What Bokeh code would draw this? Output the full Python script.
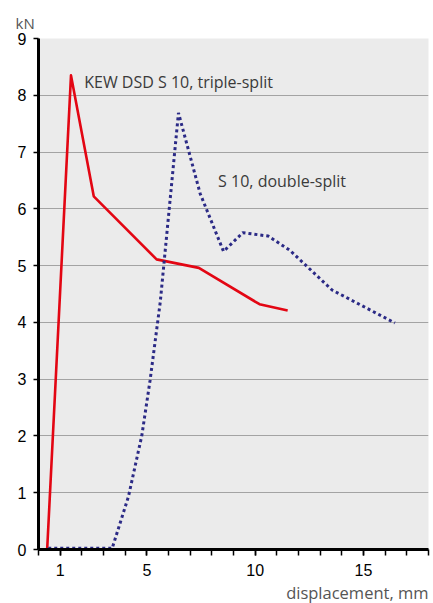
from bokeh.plotting import figure
from bokeh.models import FixedTicker, Range1d, Title
from bokeh.core.properties import value
from bokeh.embed import file_html
from bokeh.resources import INLINE

# ---- data ----
x_tick_labels = [1, 5, 10, 15]
x_minor = list(range(0, 19))
y_ticks = [0, 1, 2, 3, 4, 5, 6, 7, 8, 9]

triple_x = [0.4, 1.5, 2.55, 5.45, 7.4, 10.2, 11.5]
triple_y = [0.0, 8.35, 6.22, 5.11, 4.96, 4.32, 4.21]

double_x = [0.45, 3.4, 4.15, 4.77, 5.15, 5.62, 6.46, 7.46, 8.54, 9.43, 10.6, 11.6, 13.55, 16.45]
double_y = [0.02, 0.02, 0.93, 2.01, 2.98, 4.36, 7.69, 6.27, 5.25, 5.58, 5.52, 5.27, 4.57, 3.99]

label_triple = "KEW DSD S 10, triple-split"
label_double = "S 10, double-split"
y_unit = "kN"
x_title = "displacement, mm"

TEXT_FONT = "Open Sans"
TEXT_COLOR = "#3a3a3a"

p = figure(width=433, height=603, output_backend="svg", toolbar_location=None,
           x_range=Range1d(0, 18.0), y_range=Range1d(0, 9),
           min_border_left=38, min_border_right=5, min_border_top=38, min_border_bottom=54)
p.background_fill_color = "#ebebeb"
p.border_fill_color = "white"
p.outline_line_color = None

# grid
p.xgrid.visible = False
p.ygrid.ticker = FixedTicker(ticks=y_ticks[1:-1])
p.ygrid.grid_line_color = "#a3a3a3"
p.ygrid.grid_line_width = 1.2

# axes
xa = p.xaxis[0]
xa.ticker = FixedTicker(ticks=x_tick_labels, minor_ticks=x_minor)
xa.axis_line_color = "black"
xa.axis_line_width = 3
xa.major_tick_line_color = "black"
xa.major_tick_line_width = 1.5
xa.major_tick_out = 6
xa.major_tick_in = 0
xa.minor_tick_line_color = "black"
xa.minor_tick_line_width = 1.5
xa.minor_tick_out = 6
xa.minor_tick_in = 0
xa.major_label_text_font = "Liberation Sans"
xa.major_label_text_font_size = "16px"
xa.major_label_text_color = "black"
xa.major_label_standoff = 8

ya = p.yaxis[0]
ya.ticker = FixedTicker(ticks=y_ticks)
ya.axis_line_color = "black"
ya.axis_line_width = 3
ya.major_tick_line_color = "black"
ya.major_tick_line_width = 1.5
ya.major_tick_out = 5
ya.major_tick_in = 0
ya.minor_tick_line_color = None
ya.major_label_text_font = "Liberation Sans"
ya.major_label_text_font_size = "16px"
ya.major_label_text_color = "black"
ya.major_label_standoff = 7

# series
p.line(triple_x, triple_y, line_color="#e30613", line_width=2.6, line_join="round")
p.line(double_x, double_y, line_color="#2b2a86", line_width=3, line_dash="3 3",
       line_cap="butt")

# annotations
p.text(x=[2.11], y=[8.23], text=[label_triple], text_font=value(TEXT_FONT),
       text_font_size="16px", text_color=TEXT_COLOR, text_baseline="middle",
       text_align="left")
p.text(x=[8.29], y=[6.49], text=[label_double], text_font=value(TEXT_FONT),
       text_font_size="16px", text_color=TEXT_COLOR, text_baseline="middle",
       text_align="left")

t_top = Title(text=y_unit, align="left", offset=-23, text_font=TEXT_FONT,
              text_font_size="15px", text_font_style="normal", text_color="#555555",
              standoff=12)
p.add_layout(t_top, "above")
t_bot = Title(text=x_title, align="right", text_font=TEXT_FONT,
              text_font_size="16.5px", text_font_style="normal", text_color="#555555",
              standoff=0)
p.add_layout(t_bot, "below")

open("out.html", "w").write(file_html(p, INLINE))
